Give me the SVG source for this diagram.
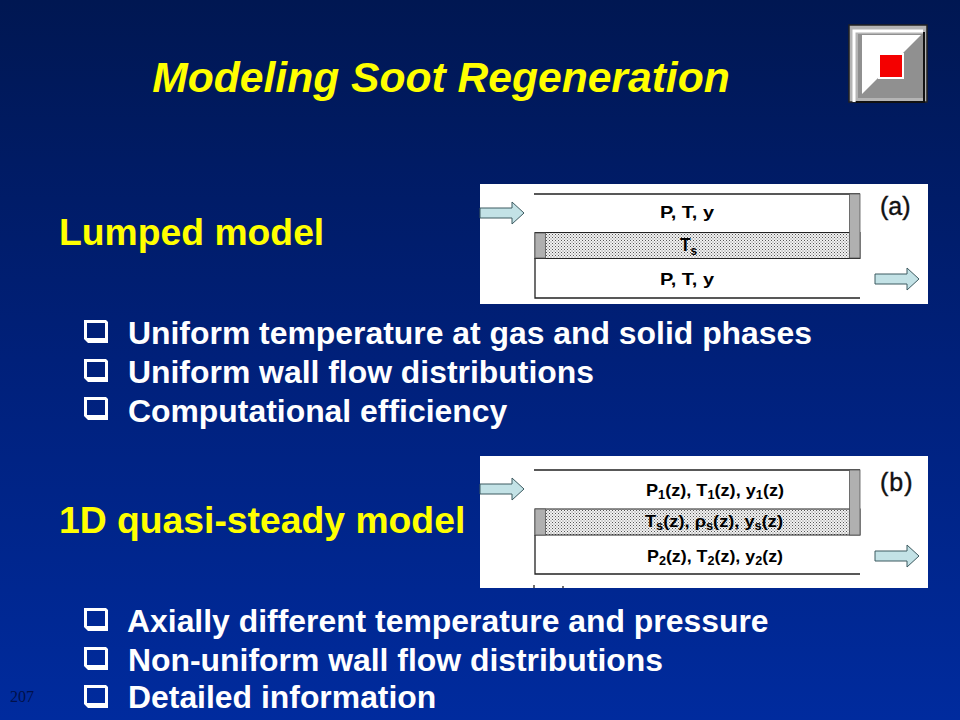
<svg xmlns="http://www.w3.org/2000/svg" width="960" height="720" viewBox="0 0 960 720">
<defs>
<linearGradient id="bg" x1="0" y1="0" x2="0" y2="1"><stop offset="0" stop-color="#001752"/><stop offset="0.5" stop-color="#00207a"/><stop offset="1" stop-color="#002b9e"/></linearGradient>
<pattern id="dots" width="3" height="3" patternUnits="userSpaceOnUse"><rect width="3" height="3" fill="#f2f2f2"/><rect width="1" height="1" fill="#555"/><rect x="1.500" y="1.500" width="1" height="1" fill="#777"/></pattern>
<path id="arrow" d="M0 6H32V0L44 11L32 22V16H0Z" fill="#c3e2e6" stroke="#3c5a60" stroke-width="1"/>
<path id="bullet" fill-rule="evenodd" fill="#fff" d="M1 0H22L24 2V23H4L0 19V0ZM3 3V18H21V3Z"/>
</defs>
<style>
text{font-family:"Liberation Sans",Arial,sans-serif;font-weight:bold}
.title{font-size:42.6px;font-style:italic;fill:#ffff00}
.head{font-size:37.3px;fill:#ffff00}
.item{font-size:31.9px;fill:#fff}
.d{font-size:17px;fill:#000}
.sub{font-size:12px}
.tag{font-size:25px;font-weight:normal;fill:#111;stroke:#111;stroke-width:.4}
.line{stroke:#222;stroke-width:1.3;fill:none}
.bar{fill:#b0b0b0;stroke:#555;stroke-width:.8}
.band{fill:url(#dots);stroke:#222;stroke-width:1}
</style>
<rect width="960" height="720" fill="url(#bg)"/>
<g id="logo">
<rect x="849" y="25" width="78" height="77" fill="#b4b4b4"/>
<path d="M849 25H927V102H849Z" fill="none" stroke="#222" stroke-width="1.5"/>
<path d="M854 102V31H923" fill="none" stroke="#fff" stroke-width="3"/>
<rect x="858" y="34" width="65" height="64" fill="#909090"/>
<path d="M862 35H921L862 94Z" fill="#fff"/>
<path d="M924 32V102H856" fill="none" stroke="#111" stroke-width="2"/>
<rect x="878" y="53" width="26" height="26" fill="#fff"/>
<rect x="880" y="55" width="22" height="22" fill="#f40000"/>
</g>
<text class="title" x="441" y="92" text-anchor="middle">Modeling Soot Regeneration</text>
<g id="lumped-text">
<text class="head" x="59" y="245">Lumped model</text>
<use href="#bullet" x="84" y="320"/><text class="item" x="128" y="344">Uniform temperature at gas and solid phases</text>
<use href="#bullet" x="84" y="359"/><text class="item" x="128" y="383">Uniform wall flow distributions</text>
<use href="#bullet" x="84" y="397"/><text class="item" x="128" y="422">Computational efficiency</text>
</g>
<g id="diagram-a">
<rect x="480" y="184" width="448" height="120" fill="#fff"/>
<path class="line" d="M534 194H860M535 258V298H860"/>
<rect class="band" x="535" y="232.500" width="325" height="26"/>
<rect class="bar" x="535" y="233" width="10.500" height="25"/>
<rect class="bar" x="849.500" y="194" width="10.500" height="64"/>
<use href="#arrow" x="480" y="202"/>
<use href="#arrow" x="875" y="268"/>
<text class="d" x="660" y="218" textLength="54" lengthAdjust="spacingAndGlyphs">P, T, y</text>
<text class="d" x="680" y="251" textLength="17" lengthAdjust="spacingAndGlyphs" style="font-size:18px">T<tspan class="sub" dy="4">s</tspan></text>
<text class="d" x="660" y="285" textLength="54" lengthAdjust="spacingAndGlyphs">P, T, y</text>
<text class="tag" x="880" y="215">(a)</text>
</g>
<g id="onedim-text">
<text class="head" x="59" y="533">1D quasi-steady model</text>
<use href="#bullet" x="84" y="608"/><text class="item" x="127" y="632">Axially different temperature and pressure</text>
<use href="#bullet" x="84" y="647"/><text class="item" x="128" y="671">Non-uniform wall flow distributions</text>
<use href="#bullet" x="84" y="685"/><text class="item" x="128" y="708">Detailed information</text>
</g>
<g id="diagram-b">
<rect x="480" y="456" width="448" height="132" fill="#fff"/>
<path class="line" d="M534 470H860M535 535V574H860M534 585V588M563 586V588"/>
<rect class="band" x="535" y="509" width="325" height="26"/>
<rect class="bar" x="535" y="509" width="10.500" height="26"/>
<rect class="bar" x="849.500" y="470" width="10.500" height="65"/>
<use href="#arrow" x="480" y="478"/>
<use href="#arrow" x="875" y="545"/>
<text class="d" x="646" y="496" textLength="138" lengthAdjust="spacingAndGlyphs">P<tspan class="sub" dy="3">1</tspan><tspan dy="-3">(z), T</tspan><tspan class="sub" dy="3">1</tspan><tspan dy="-3">(z), y</tspan><tspan class="sub" dy="3">1</tspan><tspan dy="-3">(z)</tspan></text>
<text class="d" x="645" y="527" textLength="138" lengthAdjust="spacingAndGlyphs">T<tspan class="sub" dy="3">s</tspan><tspan dy="-3">(z), ρ</tspan><tspan class="sub" dy="3">s</tspan><tspan dy="-3">(z), y</tspan><tspan class="sub" dy="3">s</tspan><tspan dy="-3">(z)</tspan></text>
<text class="d" x="647" y="562" textLength="136" lengthAdjust="spacingAndGlyphs">P<tspan class="sub" dy="3">2</tspan><tspan dy="-3">(z), T</tspan><tspan class="sub" dy="3">2</tspan><tspan dy="-3">(z), y</tspan><tspan class="sub" dy="3">2</tspan><tspan dy="-3">(z)</tspan></text>
<text class="tag" x="880" y="491" style="letter-spacing:1px">(b)</text>
</g>
<text x="10" y="702" font-size="16" style="font-family:'Liberation Serif',serif;font-weight:normal" fill="#00104a">207</text>
</svg>
